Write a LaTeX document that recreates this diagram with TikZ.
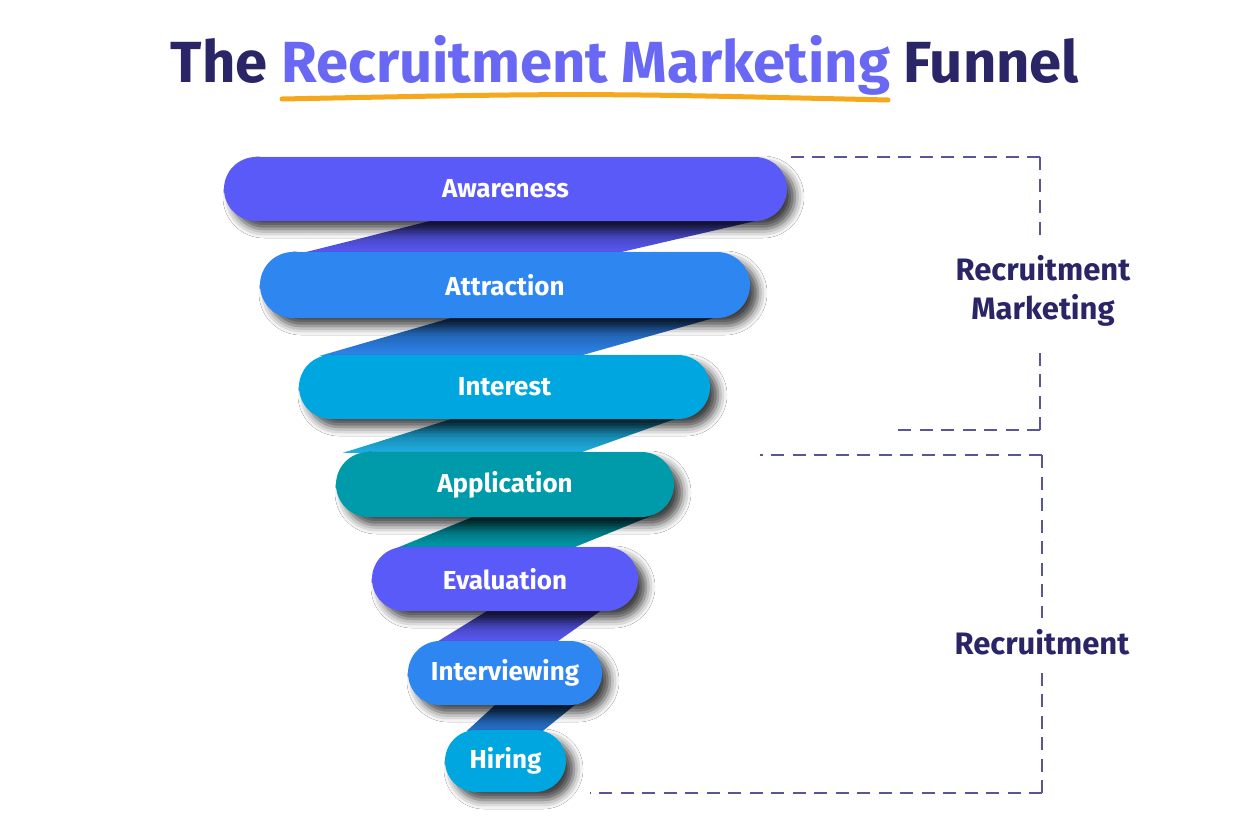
\documentclass[tikz,border=0pt]{standalone}
\usepackage{fontspec}
\setmainfont{Fira Sans}
\usetikzlibrary{shapes.misc,shadows.blur,calc}
\definecolor{cViolet}{RGB}{90,90,248}
\definecolor{cBlue}{RGB}{46,134,240}
\definecolor{cCyan}{RGB}{0,166,224}
\definecolor{cTeal}{RGB}{0,155,170}
\definecolor{cNavy}{RGB}{42,37,103}
\definecolor{cLav}{RGB}{104,104,244}
\definecolor{cOrange}{RGB}{246,168,28}
\definecolor{cDash}{RGB}{88,86,150}
\pgfdeclarelayer{background}
\pgfsetlayers{background,main}
\begin{document}
\begin{tikzpicture}[x=1pt,y=-1pt,
  pill/.style={rounded rectangle, inner sep=0pt, text=white,
    font=\fontsize{26}{30}\selectfont\bfseries,
    blur shadow={shadow xshift=8pt, shadow yshift=-8pt, shadow blur radius=9pt, shadow opacity=75}},
  ribbonband/.style={top color=#1!55!black, middle color=#1, bottom color=#1},
  bracket/.style={draw=cDash, line width=1.5pt, dash pattern=on 13pt off 8.5pt},
  sidelabel/.style={text=cNavy, font=\fontsize{31}{39}\selectfont\bfseries, align=center}]
\useasboundingbox (0,0) rectangle (1248,822);

% title
\node[anchor=base, inner sep=0pt] (title) at (625,82)
  {\fontsize{58}{60}\selectfont\bfseries\textcolor{cNavy}{The} \textcolor{cLav}{Recruitment Marketing} \textcolor{cNavy}{Funnel}};
\coordinate (u1) at (282,99);
\coordinate (u2) at (585,93);
\coordinate (u3) at (888,100);
\draw[cOrange, line width=5pt, line cap=round] (u1) .. controls (u2) .. (u3);

% pills
\node[pill, fill=cViolet, minimum width=563pt, minimum height=64pt] (aw) at (505.5,189) {Awareness};
\node[pill, fill=cBlue, minimum width=490pt, minimum height=66pt] (at) at (505,285) {Attraction};
\node[pill, fill=cCyan, minimum width=411pt, minimum height=64pt] (in) at (504.5,387) {Interest};
\node[pill, fill=cTeal, minimum width=338pt, minimum height=65pt] (ap) at (505,484.5) {Application};
\node[pill, fill=cViolet, minimum width=266pt, minimum height=64pt] (ev) at (505,579) {Evaluation};
\node[pill, fill=cBlue, minimum width=194pt, minimum height=64pt] (iv) at (505,673) {Interviewing};
\node[pill, fill=cCyan, minimum width=121pt, minimum height=62pt] (hi) at (505.5,761) {Hiring};

% ribbons behind the pills
\begin{pgfonlayer}{background}
\fill[white] (0,0) rectangle (1248,822);
\shade[ribbonband=cViolet] ($(aw.south)+(-68.5,-2)$) -- ($(aw.south)+(257.5,-2)$) -- ($(at.north)+(113,1)$) -- ($(at.north)+(-202,1)$) -- cycle;
\shade[ribbonband=cBlue] ($(at.south)+(-48,-2)$) -- ($(at.south)+(215,-2)$) -- ($(in.north)+(75.5,1)$) -- ($(in.north)+(-184.5,1)$) -- cycle;
\shade[ribbonband=cCyan!88!white] ($(in.south)+(-47.5,-2)$) -- ($(in.south)+(175.5,-2)$) -- ($(ap.north)+(75,1)$) -- ($(ap.north)+(-162,1)$) -- cycle;
\shade[ribbonband=cTeal] ($(ap.south)+(-28,-2)$) -- ($(ap.south)+(148,-2)$) -- ($(ev.north)+(68,1)$) -- ($(ev.north)+(-108,1)$) -- cycle;
\shade[ribbonband=cViolet] ($(ev.south)+(-15,-2)$) -- ($(ev.south)+(98,-2)$) -- ($(iv.north)+(52,1)$) -- ($(iv.north)+(-68,1)$) -- cycle;
\shade[ribbonband=cBlue!85!black] ($(iv.south)+(-8,-2)$) -- ($(iv.south)+(72,-2)$) -- ($(hi.north)+(37.5,1)$) -- ($(hi.north)+(-38.5,1)$) -- cycle;
\end{pgfonlayer}

% brackets
\coordinate (b1a) at (785,157);
\coordinate (b1b) at (1040,157);
\coordinate (b1c) at (1040,240);
\coordinate (b1d) at (1040,350);
\coordinate (b1e) at (1040,430);
\coordinate (b1f) at (893,430);
\draw[bracket] (b1b) -- (b1a);
\draw[bracket] (b1b) -- (b1c);
\draw[bracket] (b1e) -- (b1d);
\draw[bracket] (b1e) -- (b1f);

\coordinate (b2a) at (760,455);
\coordinate (b2b) at (1042,455);
\coordinate (b2c) at (1042,618);
\coordinate (b2d) at (1042,666);
\coordinate (b2e) at (1042,793);
\coordinate (b2f) at (590,793);
\draw[bracket] (b2b) -- (b2a);
\draw[bracket] (b2b) -- (b2c);
\draw[bracket] (b2e) -- (b2d);
\draw[bracket] (b2e) -- (b2f);

\node[sidelabel] (rm) at (1043,291) {Recruitment\\Marketing};
\node[sidelabel] (rc) at (1042,642) {Recruitment};
\end{tikzpicture}
\end{document}
